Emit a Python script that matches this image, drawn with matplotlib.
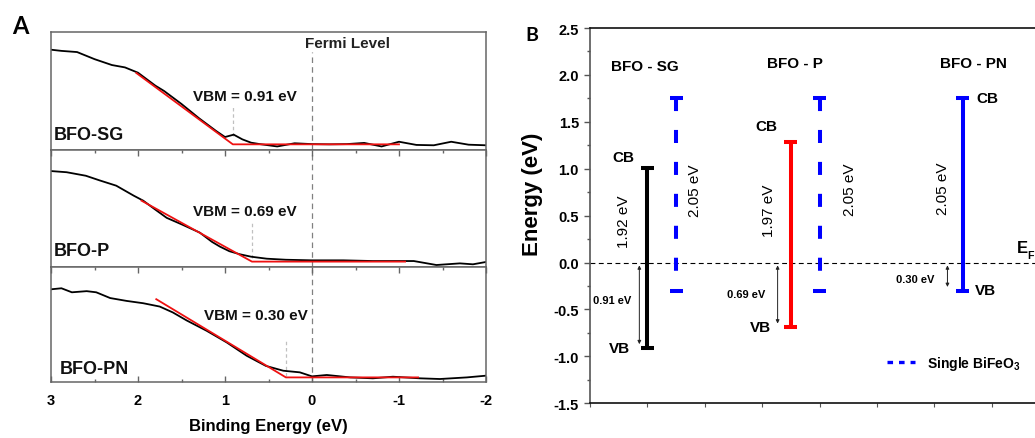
import matplotlib
matplotlib.use("Agg")
import matplotlib.pyplot as plt
from matplotlib.lines import Line2D
from matplotlib.ticker import MultipleLocator, NullFormatter, FuncFormatter

plt.rcParams['font.family'] = ['Liberation Sans', 'DejaVu Sans']
plt.rcParams['mathtext.fontset'] = 'custom'
plt.rcParams['mathtext.rm'] = 'Liberation Sans'
plt.rcParams['mathtext.bf'] = 'Liberation Sans:bold'
plt.rcParams['lines.scale_dashes'] = False

# ---------------- Panel A data: valence-band XPS spectra ----------------
sample_names = ["BFO-SG", "BFO-P", "BFO-PN"]
vbm_values = [0.91, 0.69, 0.30]

sg_be = [3.0, 2.88, 2.7, 2.5, 2.3, 2.15, 2.0, 1.9, 1.8, 1.7, 1.6, 1.5, 1.4, 1.3, 1.2, 1.1,
         1.0, 0.95, 0.9, 0.8, 0.7, 0.6, 0.4, 0.2, 0.0, -0.2, -0.4, -0.6, -0.8, -1.0,
         -1.2, -1.4, -1.6, -1.8, -2.0]
sg_int = [0.85, 0.84, 0.83, 0.77, 0.72, 0.70, 0.655, 0.60, 0.545, 0.50, 0.445, 0.39, 0.33,
          0.27, 0.215, 0.16, 0.11, 0.12, 0.13, 0.09, 0.062, 0.05, 0.03, 0.057, 0.05, 0.048,
          0.05, 0.06, 0.03, 0.07, 0.043, 0.04, 0.07, 0.045, 0.04]

p_be = [3.0, 2.82, 2.6, 2.44, 2.25, 2.05, 1.94, 1.8, 1.67, 1.5, 1.29, 1.15, 1.06, 0.95,
        0.83, 0.7, 0.52, 0.3, 0.0, -0.36, -0.7, -1.17, -1.43, -1.7, -1.85, -2.0]
p_int = [0.82, 0.81, 0.78, 0.74, 0.695, 0.61, 0.567, 0.49, 0.42, 0.365, 0.294, 0.215,
         0.175, 0.135, 0.109, 0.088, 0.071, 0.062, 0.057, 0.057, 0.051, 0.051, 0.017,
         0.031, 0.023, 0.043]

pn_be = [3.0, 2.88, 2.76, 2.59, 2.48, 2.32, 2.13, 1.94, 1.75, 1.6, 1.44, 1.21, 0.98,
         0.75, 0.53, 0.33, 0.14, 0.0, -0.17, -0.44, -0.7, -0.93, -1.24, -1.47, -1.78, -2.0]
pn_int = [0.806, 0.815, 0.78, 0.79, 0.78, 0.73, 0.705, 0.685, 0.656, 0.605, 0.535, 0.445,
          0.344, 0.228, 0.14, 0.098, 0.084, 0.049, 0.061, 0.04, 0.032, 0.046, 0.032,
          0.026, 0.04, 0.055]

# linear edge fits: start of the leading edge, baseline level, end of baseline
fit_start_be = [2.02, 1.96, 1.79]
fit_start_int = [0.653, 0.567, 0.72]
fit_base_int = [0.048, 0.046, 0.04]
fit_end_be = [-1.0, -1.07, -1.22]

spectra_be = [sg_be, p_be, pn_be]
spectra_int = [sg_int, p_int, pn_int]

# ---------------- Panel B data: band positions ----------------
group_titles = ["BFO - SG", "BFO - P", "BFO - PN"]
band_x = [1.0, 3.5, 6.5]
band_gap = [1.92, 1.97, 2.05]
band_colors = ["black", "red", "blue"]
single_x = [1.5, 4.0]
single_vbm = 0.30
single_gap = 2.05

fig = plt.figure(figsize=(10.35, 4.39), dpi=100)
W, H = 1035.0, 439.0

# ======================= Panel A =======================
edges = [33, 151, 268, 383]
axA = []
for i in range(3):
    ax = fig.add_axes([51 / W, 1 - edges[i + 1] / H, (486 - 51) / W,
                       (edges[i + 1] - edges[i]) / H])
    axA.append(ax)

spine_gray = "#666666"
name_pos = [(2.97, 0.13), (2.97, 0.14), (2.9, 0.12)]
vbm_text_pos = [(0.77, 0.455), (0.77, 0.475), (0.65, 0.58)]
vbm_marker = [(0.12, 0.375), (0.08, 0.39), (0.055, 0.36)]

for i, ax in enumerate(axA):
    ax.set_xlim(3, -2)
    ax.set_ylim(0, 1)
    for s in ax.spines.values():
        s.set_color(spine_gray)
        s.set_linewidth(1.1)
    ax.set_yticks([])
    ax.xaxis.set_major_locator(MultipleLocator(1))
    ax.xaxis.set_minor_locator(MultipleLocator(0.5))
    ax.tick_params(axis='x', which='both', direction='in', color=spine_gray,
                   top=(i > 0), bottom=(i == 2), labelbottom=(i == 2))
    ax.tick_params(axis='x', which='major', length=4, width=1.0)
    ax.tick_params(axis='x', which='minor', length=2.5, width=1.0)

    ax.plot(spectra_be[i], spectra_int[i], color="black", lw=1.3, zorder=2)
    v = vbm_values[i]
    ax.plot([fit_start_be[i], v, fit_end_be[i]],
            [fit_start_int[i], fit_base_int[i], fit_base_int[i]],
            color="#ee1111", lw=1.3, zorder=3)

    # Fermi level
    ax.axvline(0, ymax=(0.83 if i == 0 else 1.0), color="#808080", lw=0.9,
               dashes=(4, 3), zorder=1)
    # valence-band maximum marker
    ax.axvline(v, ymin=vbm_marker[i][0], ymax=vbm_marker[i][1], color="#c0c0c0",
               lw=0.9, dashes=(2.5, 2), zorder=1)

    ax.text(name_pos[i][0], name_pos[i][1], sample_names[i], fontsize=13,
            fontweight='bold', ha='left', va='center', color="#111111")
    ax.text(vbm_text_pos[i][0], vbm_text_pos[i][1], f"VBM = {v:.2f} eV", fontsize=11,
            fontweight='bold', ha='center', va='center', color="#111111")

axA[0].text(0.08, 0.906, "Fermi Level", fontsize=11, fontweight='bold',
            ha='left', va='center', color="#222222")
axA[2].xaxis.set_major_formatter(FuncFormatter(lambda x, p: f"{x:.0f}"))
axA[2].tick_params(axis='x', labelsize=10.5, pad=8)
for lbl in axA[2].get_xticklabels():
    lbl.set_fontweight('bold')
axA[2].set_xlabel("Binding Energy (eV)", fontsize=12, fontweight='bold', labelpad=8)

fig.text(11.7 / W, 1 - 34.3 / H, "A", fontsize=17, fontweight='bold',
         family=['Lato', 'DejaVu Sans'], ha='left', va='baseline')

# ======================= Panel B =======================
axB = fig.add_axes([590 / W, 1 - 404.3 / H, (1049 - 590) / W, (404.3 - 29) / H])
axB.set_xlim(0, 8)
axB.set_ylim(-1.5, 2.5)
axB.spines['right'].set_visible(False)
axB.spines['left'].set_color("#555555")
for s in ['top', 'bottom']:
    axB.spines[s].set_color("#111111")
for s in axB.spines.values():
    s.set_linewidth(1.2)
axB.xaxis.set_major_locator(MultipleLocator(1))
axB.xaxis.set_major_formatter(NullFormatter())
axB.yaxis.set_major_locator(MultipleLocator(0.5))
axB.yaxis.set_minor_locator(MultipleLocator(0.25))
axB.tick_params(axis='x', which='both', direction='out', length=3, color="#555555")
axB.tick_params(axis='y', which='major', direction='out', length=4, width=1.0,
                color="#555555", labelsize=10.5, pad=4)
axB.tick_params(axis='y', which='minor', direction='out', length=2.5, width=1.0,
                color="#555555")
axB.yaxis.set_major_formatter(FuncFormatter(lambda y, p: f"{y:.1f}"))
for lbl in axB.get_yticklabels():
    lbl.set_fontweight('bold')
axB.set_ylabel("Energy (eV)", fontsize=16, fontweight='bold')
axB.yaxis.set_label_coords(-0.103, 0.56)

# Fermi level reference
axB.axhline(0, color="black", lw=0.8, dashes=(3.5, 2.5), zorder=1)

cap_half = 0.113
bar_lw = 2.9

cb_label_off = [(-0.41, 0.11), (-0.42, 0.18), (0.42, 0.0)]
vb_label_off = [(-0.49, 0.0), (-0.53, 0.0), (0.40, 0.01)]
gap_label_pos = [(0.60, 0.45), (3.12, 0.56), (6.16, 0.80)]
arrow_x = [0.86, 3.27, 6.23]
vbm_label_pos = [(0.38, -0.40), (2.72, -0.33), (5.66, -0.17)]
title_pos = [(0.95, 2.10), (3.57, 2.13), (6.69, 2.13)]

# measured BFO samples
for i in range(3):
    x = band_x[i]
    vb = -vbm_values[i]
    cb = vb + band_gap[i]
    c = band_colors[i]
    axB.plot([x, x], [vb, cb], color=c, lw=bar_lw, solid_capstyle='butt', zorder=3)
    axB.hlines([vb, cb], x - cap_half, x + cap_half, color=c, lw=bar_lw, zorder=3)

    axB.text(x + cb_label_off[i][0], cb + cb_label_off[i][1], "CB", fontsize=11,
             fontweight='bold', ha='center', va='center')
    axB.text(x + vb_label_off[i][0], vb + vb_label_off[i][1], "VB", fontsize=11,
             fontweight='bold', ha='center', va='center')
    axB.text(gap_label_pos[i][0], gap_label_pos[i][1], f"{band_gap[i]:.2f} eV",
             fontsize=11, rotation=90, ha='center', va='center')

    axB.annotate("", xy=(arrow_x[i], vb + 0.04), xytext=(arrow_x[i], -0.03),
                 arrowprops=dict(arrowstyle='<|-|>', lw=0.7, color="#222222",
                                 mutation_scale=5, shrinkA=0, shrinkB=0))
    axB.text(vbm_label_pos[i][0], vbm_label_pos[i][1], f"{vbm_values[i]:.2f} eV",
             fontsize=8, fontweight='bold', ha='center', va='center')
    axB.text(title_pos[i][0], title_pos[i][1], group_titles[i], fontsize=11,
             fontweight='bold', ha='center', va='center')

# pristine BiFeO3 reference bands (dashed)
single_label_pos = [(1.83, 0.78), (4.53, 0.79)]
for j, x in enumerate(single_x):
    vb = -single_vbm
    cb = vb + single_gap
    axB.plot([x, x], [cb, vb], color="blue", lw=bar_lw, dashes=(9.4, 13.6),
             solid_capstyle='butt', dash_capstyle='butt', zorder=3)
    axB.hlines([vb, cb], x - cap_half, x + cap_half, color="blue", lw=bar_lw, zorder=3)
    axB.text(single_label_pos[j][0], single_label_pos[j][1], f"{single_gap:.2f} eV",
             fontsize=11, rotation=90, ha='center', va='center')

# Fermi level label E_F
axB.text(7.44, 0.11, "E", fontsize=12, fontweight='bold', ha='left', va='baseline')
axB.text(7.62, 0.045, "F", fontsize=7.7, fontweight='bold', ha='left', va='baseline')

legend_handle = Line2D([], [], color="blue", lw=2.4, dashes=(4, 4.3), dash_capstyle='butt')
axB.legend(handles=[legend_handle], labels=[r"Single BiFeO$_\mathbf{3}$"],
           loc='center left', bbox_to_anchor=((886.7 - 590) / 459, 0.1075),
           frameon=False, borderpad=0, borderaxespad=0, handlelength=2.04,
           handletextpad=0.86, prop={'weight': 'bold', 'size': 10})

fig.text(525.6 / W, 1 - 41 / H, "B", fontsize=14, fontweight='bold',
         family=['Lato', 'DejaVu Sans'], ha='left', va='baseline')

fig.savefig("out.png", dpi=100)
